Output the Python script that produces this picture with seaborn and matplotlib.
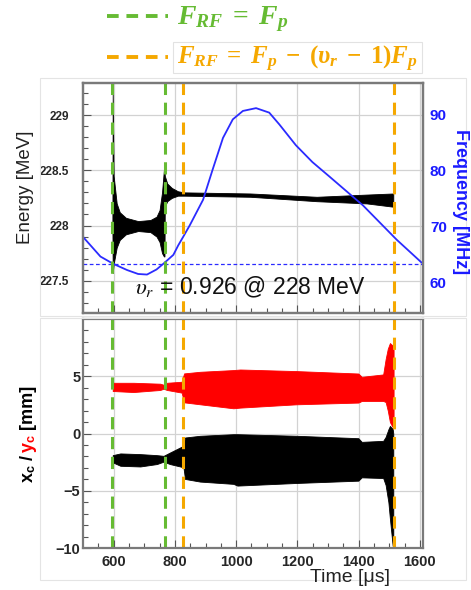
import numpy as np
import pandas as pd
import matplotlib
matplotlib.use("Agg")
import matplotlib.pyplot as plt
import seaborn as sns
from matplotlib.patches import Rectangle

sns.set_theme(style="white")
plt.rcParams['font.family'] = ['Liberation Sans', 'DejaVu Sans']
plt.rcParams['mathtext.rm'] = 'Liberation Serif:bold'
plt.rcParams['mathtext.it'] = 'Liberation Serif:italic:bold'
plt.rcParams['mathtext.bf'] = 'Liberation Sans:bold'

# ---------------- data ----------------
# RF frequency curve [MHz]
freq_t = [500, 557, 599, 644, 680, 709, 740, 762, 795, 811, 827, 849, 892, 924, 957, 989,
          1022, 1065, 1108, 1141, 1195, 1249, 1303, 1414, 1524, 1606]
freq_f = [68.2, 64.7, 63.4, 62.3, 61.6, 61.5, 62.4, 63.4, 65.0, 66.7, 68.2, 70.3, 74.8, 80.3, 85.8, 89.1,
          90.6, 91.1, 90.3, 88.2, 84.5, 81.5, 79.0, 73.8, 67.7, 63.6]
freq_ref = 63.4   # dashed reference level

# Energy envelope [MeV]
en_t  = [596, 597, 600, 610, 620, 640, 680, 720, 740, 750, 758, 764, 766,
         767, 775, 790, 810, 830, 1046, 1263, 1426, 1513]
en_hi = [228.0, 229.2, 228.45, 228.2, 228.12, 228.07, 228.04, 228.05, 228.08, 228.14, 228.3, 228.5, 228.55,
         228.45, 228.38, 228.34, 228.31, 228.30, 228.29, 228.26, 228.28, 228.29]
en_lo = [228.0, 227.57, 227.65, 227.8, 227.87, 227.92, 227.95, 227.94, 227.90, 227.85, 227.75, 227.72, 227.72,
         228.17, 228.22, 228.25, 228.27, 228.27, 228.26, 228.22, 228.20, 228.17]

# y_c envelope [mm] (red)
yc_t  = [597, 665, 752, 763, 774, 822, 830, 882, 991, 1013, 1198, 1399, 1410, 1480,
         1488, 1495, 1502, 1510, 1514]
yc_hi = [4.43, 4.43, 4.35, 4.26, 4.43, 4.52, 5.25, 5.39, 5.54, 5.59, 5.45, 5.24, 4.95, 5.16,
         6.5, 7.4, 7.9, 7.7, 7.3]
yc_lo = [3.71, 3.62, 3.80, 3.91, 3.80, 3.57, 2.72, 2.55, 2.20, 2.26, 2.55, 2.70, 2.84, 2.84,
         2.75, 2.0, 1.0, 0.6, 0.6]

# x_c envelope [mm] (black)
xc_t  = [597, 622, 687, 741, 763, 784, 817, 828, 833, 882, 991, 1004, 1198, 1399, 1410, 1480,
         1488, 1497, 1502, 1511, 1513]
xc_hi = [-1.89, -1.74, -1.80, -1.89, -1.95, -1.66, -1.22, -1.07, -0.35, -0.20, -0.06, -0.06, -0.20, -0.41, -0.73, -0.64,
         -0.3, 0.37, 0.66, 0.4, 0.0]
xc_lo = [-2.52, -2.82, -2.88, -2.67, -2.46, -2.67, -2.88, -2.96, -3.97, -4.20, -4.40, -4.55, -4.32, -4.12, -3.83, -3.89,
         -4.5, -6.0, -7.45, -9.8, -9.9]

green_lines = [595, 768]
orange_lines = [828, 1516]

GREEN = '#66bb33'
ORANGE = '#f5a800'
BLUE = '#2b2bff'
SPINE = '#7a7a7a'

W, H = 471, 590
fig = plt.figure(figsize=(W / 100, H / 100), dpi=100)

def fx(px):
    return px / W

def fy(py):
    return 1 - py / H

# faint outer boxes
fig.patches.append(Rectangle((fx(40), fy(316)), fx(466) - fx(40), fy(78) - fy(316),
                             transform=fig.transFigure, fill=False, ec='#e4e4e4', lw=0.8))
fig.patches.append(Rectangle((fx(40), fy(580)), fx(466) - fx(40), fy(318) - fy(580),
                             transform=fig.transFigure, fill=False, ec='#e4e4e4', lw=0.8))

ax1 = fig.add_axes([fx(83), fy(313), fx(423) - fx(83), fy(83) - fy(313)])
ax3 = fig.add_axes([fx(83), fy(548), fx(423) - fx(83), fy(319) - fy(548)])

for ax in (ax1, ax3):
    ax.set_xlim(500, 1610)
    ax.set_xticks([600, 800, 1000, 1200, 1400, 1600])
    ax.set_xticks(np.arange(550, 1610, 50), minor=True)
    ax.grid(True, which='major', color='#d2d2d2', lw=0.9)
    ax.set_axisbelow(True)
    for s in ax.spines.values():
        s.set_color(SPINE)
        s.set_linewidth(1.6)
    ax.tick_params(axis='both', which='both', direction='in', bottom=True, left=True,
                   top=False, right=False, color='#555555', width=0.8)
    ax.tick_params(axis='both', which='major', length=6)
    ax.tick_params(axis='both', which='minor', length=3.5)

# ---------- top panel ----------
ax1.fill_between(en_t, en_lo, en_hi, color='black', lw=0.6, edgecolor='black')
ax1.set_ylim(227.208, 229.29)
ax1.set_yticks([227.5, 228, 228.5, 229])
ax1.set_yticklabels(['227.5', '228', '228.5', '229'])
ax1.set_yticks(np.arange(227.3, 229.3, 0.1), minor=True)
ax1.tick_params(axis='x', which='both', labelbottom=False)
ax1.tick_params(axis='y', which='major', labelsize=8.5, pad=10)
for lab in ax1.get_yticklabels():
    lab.set_fontweight('bold')

ax2 = ax1.twinx()
df_f = pd.DataFrame({'t': freq_t, 'f': freq_f})
sns.lineplot(data=df_f, x='t', y='f', ax=ax2, color=BLUE, lw=1.3)
ax2.axhline(freq_ref, color=BLUE, lw=0.9, ls=(0, (3, 2)))
ax2.set_ylim(54.66, 95.57)
ax2.set_yticks([60, 70, 80, 90])
ax2.tick_params(axis='y', which='both', length=0, labelsize=11, labelcolor='#1a1aff', pad=5)
for lab in ax2.get_yticklabels():
    lab.set_fontweight('bold')
ax2.set_xlabel('')
ax2.set_ylabel('')
ax2.set_xlim(500, 1610)
for s in ax2.spines.values():
    s.set_color(SPINE)
    s.set_linewidth(1.6)
for xv in green_lines:
    ax2.axvline(xv, color=GREEN, lw=2.2, ls=(0, (4, 2.5)))
for xv in orange_lines:
    ax2.axvline(xv, color=ORANGE, lw=2.2, ls=(0, (4, 2.5)))

# ---------- bottom panel ----------
ax3.fill_between(yc_t, yc_lo, yc_hi, color='#ff0000', lw=0.6, edgecolor='#ff0000')
ax3.fill_between(xc_t, xc_lo, xc_hi, color='black', lw=0.6, edgecolor='black')
ax3.set_ylim(-10, 10)
ax3.set_yticks([-10, -5, 0, 5])
ax3.set_yticks(np.arange(-9, 10, 1), minor=True)
ax3.tick_params(axis='y', which='major', labelsize=10.5, pad=2)
ax3.tick_params(axis='x', which='major', labelsize=10.5, pad=5)
for lab in ax3.get_yticklabels() + ax3.get_xticklabels():
    lab.set_fontweight('bold')
for xv in green_lines:
    ax3.axvline(xv, color=GREEN, lw=2.2, ls=(0, (4, 2.5)))
for xv in orange_lines:
    ax3.axvline(xv, color=ORANGE, lw=2.2, ls=(0, (4, 2.5)))

# ---------- texts ----------
fig.text(fx(25), fy(187), 'Energy [MeV]', rotation=90, ha='center', va='center',
         fontsize=13.5, color='#222222')
fig.text(fx(461), fy(202), 'Frequency [MHz]', rotation=-90, ha='center', va='center',
         fontsize=13, fontweight='bold', color='#1a1aff')
fig.text(fx(350), fy(577), 'Time [\u03bcs]', ha='center', va='center', fontsize=14, color='#222222')
fig.text(fx(250), fy(287), r'$\upsilon_r$ = 0.926 @ 228 MeV', ha='center', va='center',
         fontsize=16.5, color='#111111', math_fontfamily='stix')

# multi-coloured y label of bottom panel
renderer = fig.canvas.get_renderer()
ypix = 483.0
for s, c in [(r'x$_{\mathbf{c}}$ / ', 'black'), (r'y$_{\mathbf{c}}$', '#ff0000'), (' [mm]', 'black')]:
    t = fig.text(fx(33), fy(ypix), s, rotation=90, rotation_mode='anchor', ha='left', va='baseline',
                 fontsize=13, fontweight='bold', color=c, math_fontfamily='custom')
    ext = t.get_window_extent(renderer)
    ypix -= ext.height

# legend at top
fig.add_artist(plt.Line2D([fx(107), fx(168)], [fy(16), fy(16)], transform=fig.transFigure,
                          color=GREEN, lw=2.8, ls=(0, (3, 2))))
fig.add_artist(plt.Line2D([fx(107), fx(168)], [fy(57), fy(57)], transform=fig.transFigure,
                          color=ORANGE, lw=2.8, ls=(0, (3, 2))))
fig.text(fx(177), fy(19), r'$F_{RF}\;=\;F_p$', ha='left', va='center', fontsize=20,
         color=GREEN, math_fontfamily='custom')
fig.patches.append(Rectangle((fx(173), fy(73)), fx(422) - fx(173), fy(42) - fy(73),
                             transform=fig.transFigure, fill=False, ec='#e2e2e2', lw=0.8))
fig.text(fx(177), fy(59), r'$F_{RF}\;=\;F_p\;-\;(\upsilon_r\;-\;1)F_p$', ha='left', va='center',
         fontsize=18, color=ORANGE, math_fontfamily='custom')

fig.savefig('out.png', dpi=100)
